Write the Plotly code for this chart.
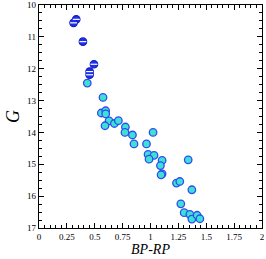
import plotly.graph_objects as go

# Bright (blue, striped) stars
blue_bprp = [0.334, 0.310, 0.394, 0.493, 0.454, 0.454]
blue_g = [10.45, 10.56, 11.15, 11.86, 12.09, 12.19]

# Cyan stars
cyan_bprp = [0.433, 0.574, 0.559, 0.598, 0.598, 0.628, 0.592, 0.676, 0.712,
             0.775, 0.771, 0.838, 1.023, 0.852, 0.964, 0.978, 1.032, 0.987,
             1.104, 1.089, 1.338, 1.104, 1.095, 1.233, 1.263, 1.371, 1.272,
             1.302, 1.353, 1.371, 1.418, 1.443]
cyan_g = [12.45, 12.90, 13.39, 13.32, 13.42, 13.64, 13.79, 13.72, 13.63,
          13.83, 14.00, 14.08, 14.00, 14.36, 14.36, 14.69, 14.72, 14.84,
          14.88, 15.04, 14.86, 15.30, 15.33, 15.59, 15.54, 15.80, 16.24,
          16.52, 16.57, 16.72, 16.60, 16.71]

x_tickvals = [0, 0.25, 0.5, 0.75, 1, 1.25, 1.5, 1.75, 2]
x_ticktext = ["0", "0.25", "0.5", "0.75", "1", "1.25", "1.5", "1.75", "2"]
y_tickvals = [10, 11, 12, 13, 14, 15, 16, 17]

fig = go.Figure()
fig.add_trace(go.Scatter(
    x=cyan_bprp, y=cyan_g, mode="markers",
    marker=dict(symbol="circle", size=7.5, color="#3ee0d4",
                line=dict(color="#2f4cf0", width=1.3)),
    showlegend=False))
fig.add_trace(go.Scatter(
    x=blue_bprp, y=blue_g, mode="markers",
    marker=dict(symbol="circle", size=7.5, color="#1f2ef0",
                line=dict(color="#1020c0", width=1.2)),
    showlegend=False))
fig.add_trace(go.Scatter(
    x=blue_bprp, y=blue_g, mode="markers",
    marker=dict(symbol="line-ew", size=5, color="white",
                line=dict(color="white", width=1.2)),
    showlegend=False))

font_serif = "Liberation Serif, Times New Roman, serif"
fig.update_layout(
    width=266, height=259,
    margin=dict(l=39, r=4, t=5, b=31),
    paper_bgcolor="white", plot_bgcolor="white",
    font=dict(family=font_serif, size=9, color="black"),
    xaxis=dict(range=[0, 2], tickvals=x_tickvals, ticktext=x_ticktext,
               ticks="inside", ticklen=5, tickwidth=1, tickcolor="black",
               showline=True, linecolor="black", linewidth=1.2, mirror="allticks",
               showgrid=False, zeroline=False, automargin=False,
               ticklabeloverflow="allow",
               minor=dict(dtick=0.05, ticks="inside", ticklen=3, tickcolor="black", showgrid=False),
               title=dict(text="<i>BP-RP</i>", font=dict(family=font_serif, size=14, color="black"), standoff=0),
               tickfont=dict(family=font_serif, size=9, color="black")),
    yaxis=dict(range=[17, 10], tickvals=y_tickvals,
               ticks="inside", ticklen=5, tickwidth=1, tickcolor="black",
               showline=True, linecolor="black", linewidth=1.2, mirror="allticks",
               showgrid=False, zeroline=False, automargin=False,
               ticklabeloverflow="allow",
               minor=dict(dtick=0.25, ticks="inside", ticklen=3, tickcolor="black", showgrid=False),
               title=dict(text="<i>G</i>", font=dict(family=font_serif, size=18, color="black"), standoff=2),
               tickfont=dict(family=font_serif, size=9, color="black")),
)
fig.write_html("out.html", config={"displayModeBar": False},
               post_script="document.body.style.margin='0';document.body.style.overflow='hidden';")
